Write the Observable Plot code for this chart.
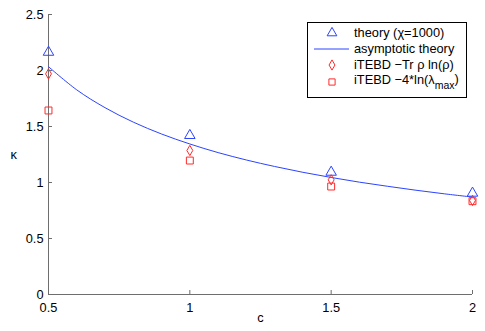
<!DOCTYPE html>
<html>
<head>
<meta charset="utf-8">
<script src="https://cdn.jsdelivr.net/npm/d3@7"></script>
<script src="https://cdn.jsdelivr.net/npm/@observablehq/plot@0.6"></script>
<style>
  html, body { margin: 0; padding: 0; background: #fff; }
  #chart svg { display: block; font-family: "Liberation Sans", Arial, sans-serif; }
</style>
</head>
<body>
<div id="chart"></div>
<script>
// Data
const cValues = [0.5, 1, 1.5, 2];
const theory = [2.163, 1.42, 1.092, 0.905];
const iTEBDEntropy = [1.97, 1.286, 1.024, 0.84];
const iTEBDLambda = [1.643, 1.196, 0.964, 0.833];

const asymC = [0.5, 0.6, 0.7, 0.8, 0.9, 1.0, 1.1, 1.2, 1.3, 1.4, 1.5, 1.6, 1.7, 1.8, 1.9, 2.0];
const asymK = [2.034, 1.827, 1.668, 1.539, 1.433, 1.344, 1.267, 1.201, 1.143, 1.091, 1.045, 1.003, 0.966, 0.931, 0.899, 0.870];

const xTicks = [0.5, 1, 1.5, 2];
const yTicks = [0, 0.5, 1, 1.5, 2, 2.5];
const legendLabels = ["theory (\u03c7=1000)", "asymptotic theory", "iTEBD \u2212Tr \u03c1 ln(\u03c1)", "iTEBD \u22124*ln(\u03bb"];

const blue = "#2b44ff";
const red = "#ff2a2a";
const axisColor = "#6e6e6e";
const fs = 12.8;

const pts = (ys) => cValues.map((c, i) => ({c, k: ys[i]}));
const curve = asymC.map((c, i) => ({c, k: asymK[i]}));

const W = 485, H = 331;
const mL = 48, mR = 13, mT = 14, mB = 37;
const tickLenX = 4 / ((W - mL - mR) / 1.5);
const tickLenY = 4 / ((H - mT - mB) / 2.5);

const plot = Plot.plot({
  width: W,
  height: H,
  marginLeft: mL,
  marginRight: mR,
  marginTop: mT,
  marginBottom: mB,
  style: {fontSize: fs + "px", fontFamily: "Liberation Sans, Arial, sans-serif", color: "#000", background: "#fff"},
  x: {domain: [0.5, 2]},
  y: {domain: [0, 2.5]},
  marks: [
    Plot.ruleX([0.5], {stroke: axisColor, strokeWidth: 1}),
    Plot.ruleY([0], {stroke: axisColor, strokeWidth: 1}),
    Plot.ruleX(xTicks, {y1: 0, y2: tickLenY, stroke: axisColor}),
    Plot.ruleY(yTicks, {x1: 0.5, x2: 0.5 + tickLenX, stroke: axisColor}),
    Plot.axisX({ticks: xTicks, tickSize: 0, tickPadding: 8, tickFormat: d => String(d), label: null, fill: "#000", fontSize: fs}),
    Plot.axisY({ticks: yTicks, tickSize: 0, tickPadding: 5, tickFormat: d => String(d), label: null, fill: "#000", fontSize: fs}),
    Plot.line(curve, {x: "c", y: "k", stroke: blue, strokeWidth: 1, curve: "catmull-rom"}),
    Plot.dot(pts(theory), {x: "c", y: "k", symbol: "triangle", r: 3.9, stroke: blue, fill: "none", strokeWidth: 1}),
    Plot.dot(pts(iTEBDEntropy), {x: "c", y: "k", symbol: "diamond", r: 3.1, stroke: red, fill: "none", strokeWidth: 1}),
    Plot.dot(pts(iTEBDLambda), {x: "c", y: "k", symbol: "square", r: 3.9, stroke: red, fill: "none", strokeWidth: 1}),
    Plot.text(["c"], {frameAnchor: "bottom", dy: 27, fontSize: fs, fill: "#000"}),
    Plot.text(["\u03ba"], {frameAnchor: "left", dx: -38, fontSize: fs, fill: "#000"})
  ]
});

document.getElementById("chart").appendChild(plot);

// Legend
const svg = d3.select(plot);
const g = svg.append("g").attr("font-size", fs).attr("text-anchor", "start")
  .attr("font-family", "Liberation Sans, Arial, sans-serif");
g.append("rect").attr("x", 307.5).attr("y", 22.5).attr("width", 159).attr("height", 75)
  .attr("fill", "#fff").attr("stroke", "#000").attr("stroke-width", 1);
const rowsY = [33, 49, 65, 80];
const symX = 332;
const textX = 354;
const sym = (type, r) => d3.symbol(type, Math.PI * r * r)();
g.append("path").attr("d", sym(d3.symbolTriangle, 3.6)).attr("transform", `translate(${symX},${rowsY[0]})`)
  .attr("fill", "none").attr("stroke", blue);
g.append("line").attr("x1", 314).attr("x2", 349).attr("y1", rowsY[1]).attr("y2", rowsY[1]).attr("stroke", blue);
g.append("path").attr("d", sym(d3.symbolDiamond, 3.1)).attr("transform", `translate(${symX},${rowsY[2]})`)
  .attr("fill", "none").attr("stroke", red);
g.append("path").attr("d", sym(d3.symbolSquare, 3.5)).attr("transform", `translate(${symX},${rowsY[3] + 2})`)
  .attr("fill", "none").attr("stroke", red);
legendLabels.forEach((t, i) => {
  const tx = g.append("text").attr("x", textX).attr("y", rowsY[i]).attr("dy", "0.35em").attr("fill", "#000").text(t);
  if (i === 3) {
    tx.append("tspan").attr("font-size", 10.5).attr("dy", "0.45em").text("max");
    tx.append("tspan").attr("dy", "-0.45em").text(")");
  }
});
</script>
</body>
</html>
